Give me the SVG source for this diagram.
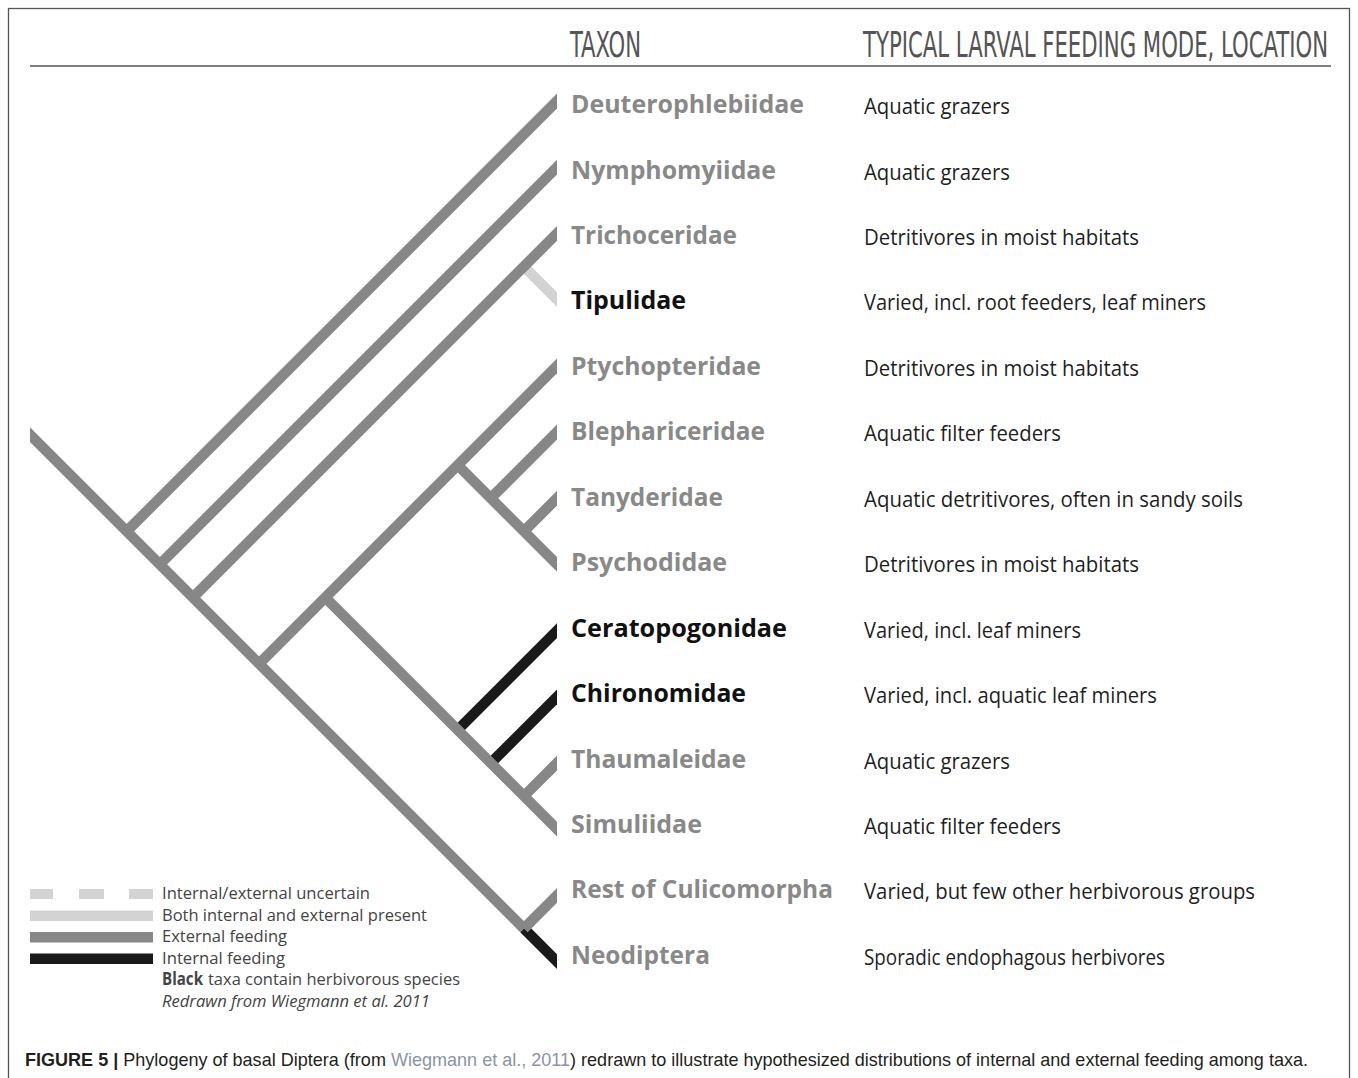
<svg xmlns="http://www.w3.org/2000/svg" width="1358" height="1078" viewBox="0 0 1358 1078">
<style>
.br{fill:none;stroke-width:10.5;stroke-linecap:butt}
.g{stroke:#878787}.k{stroke:#1a1a1a}.l{stroke:#d3d3d3}
.tx{font-family:"Open Sans","DejaVu Sans",sans-serif;font-weight:700;font-size:25px}
.tg{fill:#898989}.tk{fill:#111111}
.ds{font-family:"Open Sans","DejaVu Sans",sans-serif;font-size:21px;fill:#1f1f1f}
.hd{font-family:"DejaVu Sans Condensed","DejaVu Sans",sans-serif;font-size:36px;fill:#555555}
.lg{font-family:"Open Sans","DejaVu Sans",sans-serif;font-size:17px;fill:#444444}
.cap{font-family:"Liberation Sans",Arial,sans-serif;font-size:19px;fill:#231f20}
</style>
<defs>
<clipPath id="treeclip"><rect x="30" y="70" width="527" height="930"/></clipPath>
</defs>
<rect width="1358" height="1078" fill="#ffffff"/>
<rect x="8.5" y="8.5" width="1341" height="1090" fill="none" stroke="#555555" stroke-width="1.3"/>

<g id="header">
<text class="hd" transform="translate(570,57) scale(0.62,1)" x="0" y="0" textLength="114.5" lengthAdjust="spacingAndGlyphs">TAXON</text>
<text class="hd" transform="translate(863,57) scale(0.62,1)" x="0" y="0" textLength="750" lengthAdjust="spacingAndGlyphs">TYPICAL LARVAL FEEDING MODE, LOCATION</text>
<line x1="30" y1="66" x2="1331" y2="66" stroke="#555555" stroke-width="1.5"/>
</g>

<g id="connectors" clip-path="url(#treeclip)">
<line class="br l" x1="523.9" y1="266.5" x2="570" y2="312.6"/>
<line class="br k" x1="457.7" y1="729.9" x2="570" y2="617.6"/>
<line class="br k" x1="490.8" y1="763" x2="570" y2="683.8"/>
<line class="br k" x1="523.9" y1="928.5" x2="570" y2="974.6"/>
<line class="br g" x1="20" y1="424.6" x2="523.9" y2="928.5"/>
<line class="br g" x1="126.7" y1="531.3" x2="570" y2="88"/>
<line class="br g" x1="159.8" y1="564.4" x2="570" y2="154.2"/>
<line class="br g" x1="192.9" y1="597.5" x2="570" y2="220.4"/>
<line class="br g" x1="259.1" y1="663.7" x2="570" y2="352.8"/>
<line class="br g" x1="325.3" y1="597.5" x2="570" y2="842.2"/>
<line class="br g" x1="457.7" y1="465.1" x2="570" y2="577.4"/>
<line class="br g" x1="490.8" y1="498.2" x2="570" y2="419"/>
<line class="br g" x1="523.9" y1="531.3" x2="570" y2="485.2"/>
<line class="br g" x1="523.9" y1="796.1" x2="570" y2="750"/>
<line class="br g" x1="523.9" y1="928.5" x2="570" y2="882.4"/>
</g>

<g id="taxon-Deuterophlebiidae">
<text class="tx tg" x="571" y="113" textLength="233" lengthAdjust="spacingAndGlyphs">Deuterophlebiidae</text>
<text class="ds" x="864" y="114" textLength="146" lengthAdjust="spacingAndGlyphs">Aquatic grazers</text>
</g>
<g id="taxon-Nymphomyiidae">
<text class="tx tg" x="571" y="178.5" textLength="205" lengthAdjust="spacingAndGlyphs">Nymphomyiidae</text>
<text class="ds" x="864" y="179.5" textLength="146" lengthAdjust="spacingAndGlyphs">Aquatic grazers</text>
</g>
<g id="taxon-Trichoceridae">
<text class="tx tg" x="571" y="243.9" textLength="166" lengthAdjust="spacingAndGlyphs">Trichoceridae</text>
<text class="ds" x="864" y="244.9" textLength="275" lengthAdjust="spacingAndGlyphs">Detritivores in moist habitats</text>
</g>
<g id="taxon-Tipulidae">
<text class="tx tk" x="571" y="309.4" textLength="115" lengthAdjust="spacingAndGlyphs">Tipulidae</text>
<text class="ds" x="864" y="310.4" textLength="342" lengthAdjust="spacingAndGlyphs">Varied, incl. root feeders, leaf miners</text>
</g>
<g id="taxon-Ptychopteridae">
<text class="tx tg" x="571" y="374.8" textLength="190" lengthAdjust="spacingAndGlyphs">Ptychopteridae</text>
<text class="ds" x="864" y="375.8" textLength="275" lengthAdjust="spacingAndGlyphs">Detritivores in moist habitats</text>
</g>
<g id="taxon-Blephariceridae">
<text class="tx tg" x="571" y="440.3" textLength="194" lengthAdjust="spacingAndGlyphs">Blephariceridae</text>
<text class="ds" x="864" y="441.3" textLength="197" lengthAdjust="spacingAndGlyphs">Aquatic filter feeders</text>
</g>
<g id="taxon-Tanyderidae">
<text class="tx tg" x="571" y="505.7" textLength="152" lengthAdjust="spacingAndGlyphs">Tanyderidae</text>
<text class="ds" x="864" y="506.7" textLength="379" lengthAdjust="spacingAndGlyphs">Aquatic detritivores, often in sandy soils</text>
</g>
<g id="taxon-Psychodidae">
<text class="tx tg" x="571" y="571.2" textLength="156" lengthAdjust="spacingAndGlyphs">Psychodidae</text>
<text class="ds" x="864" y="572.2" textLength="275" lengthAdjust="spacingAndGlyphs">Detritivores in moist habitats</text>
</g>
<g id="taxon-Ceratopogonidae">
<text class="tx tk" x="571" y="636.6" textLength="216" lengthAdjust="spacingAndGlyphs">Ceratopogonidae</text>
<text class="ds" x="864" y="637.6" textLength="217" lengthAdjust="spacingAndGlyphs">Varied, incl. leaf miners</text>
</g>
<g id="taxon-Chironomidae">
<text class="tx tk" x="571" y="702.1" textLength="175" lengthAdjust="spacingAndGlyphs">Chironomidae</text>
<text class="ds" x="864" y="703.1" textLength="293" lengthAdjust="spacingAndGlyphs">Varied, incl. aquatic leaf miners</text>
</g>
<g id="taxon-Thaumaleidae">
<text class="tx tg" x="571" y="767.5" textLength="175" lengthAdjust="spacingAndGlyphs">Thaumaleidae</text>
<text class="ds" x="864" y="768.5" textLength="146" lengthAdjust="spacingAndGlyphs">Aquatic grazers</text>
</g>
<g id="taxon-Simuliidae">
<text class="tx tg" x="571" y="833" textLength="131" lengthAdjust="spacingAndGlyphs">Simuliidae</text>
<text class="ds" x="864" y="834" textLength="197" lengthAdjust="spacingAndGlyphs">Aquatic filter feeders</text>
</g>
<g id="taxon-RestOfCulicomorpha">
<text class="tx tg" x="571" y="898.4" textLength="262" lengthAdjust="spacingAndGlyphs">Rest of Culicomorpha</text>
<text class="ds" x="864" y="899.4" textLength="391" lengthAdjust="spacingAndGlyphs">Varied, but few other herbivorous groups</text>
</g>
<g id="taxon-Neodiptera">
<text class="tx tg" x="571" y="963.9" textLength="139" lengthAdjust="spacingAndGlyphs">Neodiptera</text>
<text class="ds" x="864" y="964.9" textLength="301" lengthAdjust="spacingAndGlyphs">Sporadic endophagous herbivores</text>
</g>

<g id="legend">
<rect x="30" y="889" width="23" height="10" fill="#d3d3d3"/>
<rect x="79" y="889" width="25" height="10" fill="#d3d3d3"/>
<rect x="129" y="889" width="24" height="10" fill="#d3d3d3"/>
<rect x="30" y="910.5" width="123" height="10.5" fill="#d3d3d3"/>
<rect x="30" y="932" width="123" height="10.5" fill="#878787"/>
<rect x="30" y="953.5" width="123" height="10.5" fill="#1a1a1a"/>
<text class="lg" x="162" y="899" textLength="208" lengthAdjust="spacingAndGlyphs">Internal/external uncertain</text>
<text class="lg" x="162" y="920.5" textLength="265" lengthAdjust="spacingAndGlyphs">Both internal and external present</text>
<text class="lg" x="162" y="942" textLength="125" lengthAdjust="spacingAndGlyphs">External feeding</text>
<text class="lg" x="162" y="963.5" textLength="123" lengthAdjust="spacingAndGlyphs">Internal feeding</text>
<text class="lg" x="162" y="985" font-weight="700" fill="#111111" textLength="41" lengthAdjust="spacingAndGlyphs">Black</text>
<text class="lg" x="208" y="985" textLength="252" lengthAdjust="spacingAndGlyphs">taxa contain herbivorous species</text>
<text class="lg" x="162" y="1006.5" font-style="italic" textLength="268" lengthAdjust="spacingAndGlyphs">Redrawn from Wiegmann et al. 2011</text>
</g>

<g id="caption">
<text class="cap" x="25" y="1066" textLength="1283" lengthAdjust="spacingAndGlyphs"><tspan font-weight="700">FIGURE 5 |</tspan> Phylogeny of basal Diptera (from <tspan fill="#8c93a3">Wiegmann et al., 2011</tspan>) redrawn to illustrate hypothesized distributions of internal and external feeding among taxa.</text>
</g>
</svg>
